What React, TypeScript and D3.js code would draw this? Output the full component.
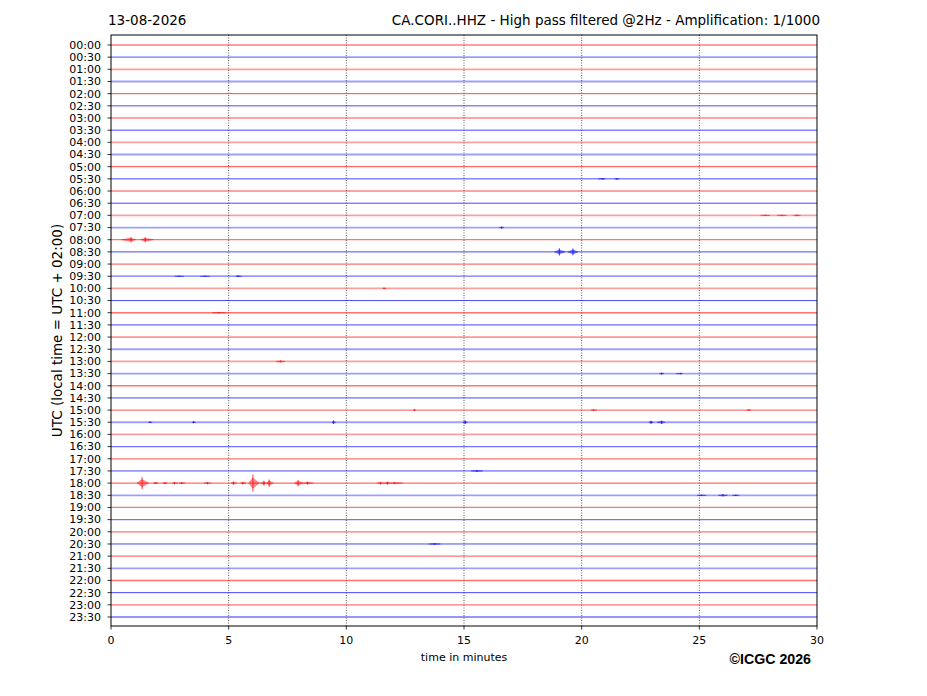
import React from "react";
import * as d3 from "d3";

// Trace rows: one every 30 minutes over the day
const rowLabels: string[] = d3.range(48).map((i) => {
  const h = Math.floor(i / 2);
  return `${String(h).padStart(2, "0")}:${i % 2 ? "30" : "00"}`;
});

// Background noise level read per row (0 = quiet, 1 = medium, 2 = noisy)
const rowNoise: number[] = [
  2, 1, 2, 2, 0, 0, 0, 0, 2, 2, 0, 0, 0, 0, 2, 2, 1, 0, 1, 1, 2, 0, 1, 0,
  0, 2, 2, 2, 1, 0, 1, 2, 2, 1, 1, 0, 0, 2, 1, 1, 1, 0, 1, 2, 1, 0, 1, 1,
];

// Bursts: [row, start min, peak min, end min, half-amplitude in row units]
const bursts: [number, number, number, number, number][] = [
  [16, 0.45, 0.85, 1.05, 0.22],
  [16, 1.25, 1.45, 1.8, 0.2],
  [17, 18.85, 19.05, 19.3, 0.3],
  [17, 19.4, 19.63, 19.85, 0.28],
  [36, 1.1, 1.32, 1.6, 0.5],
  [36, 1.8, 1.9, 2.0, 0.07],
  [36, 2.2, 2.3, 2.4, 0.07],
  [36, 2.6, 2.7, 2.85, 0.08],
  [36, 2.9, 3.0, 3.15, 0.08],
  [36, 3.95, 4.1, 4.25, 0.09],
  [36, 5.1, 5.2, 5.35, 0.13],
  [36, 5.5, 5.6, 5.75, 0.1],
  [36, 5.85, 6.03, 6.3, 0.7],
  [36, 6.35, 6.5, 6.6, 0.2],
  [36, 6.6, 6.72, 6.9, 0.3],
  [36, 7.8, 7.95, 8.2, 0.25],
  [36, 8.2, 8.35, 8.6, 0.12],
  [36, 11.3, 11.45, 11.6, 0.1],
  [36, 11.6, 11.75, 11.9, 0.12],
  [36, 11.9, 12.05, 12.4, 0.08],
  [37, 24.9, 25.1, 25.3, 0.05],
  [37, 25.8, 26.0, 26.2, 0.09],
  [37, 26.4, 26.55, 26.7, 0.05],
  [35, 15.3, 15.55, 15.8, 0.07],
  [14, 27.6, 27.8, 28.0, 0.04],
  [14, 28.3, 28.5, 28.7, 0.05],
  [14, 29.0, 29.15, 29.3, 0.06],
  [11, 20.7, 20.9, 21.0, 0.06],
  [11, 21.4, 21.5, 21.6, 0.06],
  [15, 16.5, 16.6, 16.7, 0.08],
  [19, 2.7, 2.9, 3.1, 0.04],
  [19, 3.8, 4.0, 4.2, 0.04],
  [19, 5.3, 5.4, 5.55, 0.06],
  [26, 7.0, 7.2, 7.4, 0.08],
  [22, 4.3, 4.6, 4.9, 0.05],
  [31, 9.4, 9.45, 9.55, 0.15],
  [31, 14.95, 15.05, 15.15, 0.15],
  [31, 22.85, 22.95, 23.05, 0.12],
  [31, 23.2, 23.4, 23.55, 0.14],
  [31, 1.6, 1.65, 1.75, 0.06],
  [31, 3.45, 3.5, 3.6, 0.07],
  [30, 12.85, 12.9, 12.95, 0.08],
  [30, 20.4, 20.5, 20.65, 0.05],
  [30, 27.0, 27.1, 27.2, 0.05],
  [27, 23.3, 23.4, 23.5, 0.07],
  [27, 24.0, 24.2, 24.3, 0.05],
  [41, 13.5, 13.75, 14.0, 0.07],
  [20, 11.55, 11.6, 11.7, 0.06],
];

const xTicks: number[] = [0, 5, 10, 15, 20, 25, 30];
const gridMinutes: number[] = [5, 10, 15, 20, 25];
const rowColors: string[] = ["#ff0000", "#0000ff"];

const W = 927;
const H = 696;
const left = 111;
const right = 817;
const top = 35;
const bottom = 626;

const App: React.FC = () => {
  const x = d3.scaleLinear().domain([0, 30]).range([left, right]);
  const y = d3.scaleLinear().domain([-0.82, 47.74]).range([top, bottom]);
  const font = "'DejaVu Sans', sans-serif";

  // envelope of a burst, drawn a bit narrower than the peak spike
  const spindle = (b: [number, number, number, number, number]) => {
    const [row, t0, tp, t1, a] = b;
    const e = a * 0.6;
    const pts: [number, number][] = [
      [t0, row],
      [tp, row - e],
      [t1, row],
      [tp, row + e],
    ];
    return d3.line()(pts.map(([t, r]) => [x(t), y(r)]))! + "Z";
  };

  return (
    <svg width={W} height={H} style={{ position: "absolute", left: 0, top: 0 }}>
      <rect width={W} height={H} fill="#fff" />
      {/* vertical grid */}
      {gridMinutes.map((m) => (
        <line key={m} x1={x(m)} x2={x(m)} y1={top} y2={bottom} stroke="#000" strokeWidth={0.8} strokeDasharray="1,1.5" opacity={0.8} />
      ))}
      {/* traces */}
      {rowLabels.map((_, i) => {
        const n = rowNoise[i];
        return (
          <line
            key={i}
            x1={x(0)}
            x2={x(30)}
            y1={y(i)}
            y2={y(i)}
            stroke={rowColors[i % 2]}
            strokeWidth={n === 2 ? 1.8 : n === 1 ? 1.3 : 1}
            strokeOpacity={n === 2 ? 0.38 : n === 1 ? 0.55 : 0.72}
          />
        );
      })}
      {bursts.map((b, i) => (
        <g key={i} fill={rowColors[b[0] % 2]} stroke={rowColors[b[0] % 2]}>
          <path d={spindle(b)} strokeWidth={0.6} fillOpacity={0.45} strokeOpacity={0.5} />
          <line x1={x(b[2])} x2={x(b[2])} y1={y(b[0] - b[4])} y2={y(b[0] + b[4])} strokeWidth={0.9} strokeOpacity={0.85} />
        </g>
      ))}
      {/* frame */}
      <rect x={left} y={top} width={right - left} height={bottom - top} fill="none" stroke="#000" strokeWidth={1} />
      {/* y ticks */}
      {rowLabels.map((lab, i) => (
        <g key={lab}>
          <line x1={left - 3.5} x2={left} y1={y(i)} y2={y(i)} stroke="#000" strokeWidth={0.8} />
          <text x={left - 10} y={y(i)} dy="0.35em" textAnchor="end" fontFamily={font} fontSize={11}>
            {lab}
          </text>
        </g>
      ))}
      {/* x ticks */}
      {xTicks.map((t) => (
        <g key={t}>
          <line x1={x(t)} x2={x(t)} y1={bottom} y2={bottom + 3.5} stroke="#000" strokeWidth={0.8} />
          <text x={x(t)} y={bottom + 18} textAnchor="middle" fontFamily={font} fontSize={11}>
            {t}
          </text>
        </g>
      ))}
      <text x={(left + right) / 2} y={661} textAnchor="middle" fontFamily={font} fontSize={11}>
        time in minutes
      </text>
      <text transform={`translate(62,${(top + bottom) / 2}) rotate(-90)`} textAnchor="middle" fontFamily={font} fontSize={13.5}>
        UTC (local time = UTC + 02:00)
      </text>
      <text x={108} y={25} fontFamily={font} fontSize={13.5}>
        13-08-2026
      </text>
      <text x={820} y={25} textAnchor="end" fontFamily={font} fontSize={13.5}>
        CA.CORI..HHZ - High pass filtered @2Hz - Amplification: 1/1000
      </text>
      <text x={811} y={664} textAnchor="end" fontFamily="'Liberation Sans', Arial, sans-serif" fontWeight="bold" fontSize={14.2}>
        ©ICGC 2026
      </text>
    </svg>
  );
};

export default App;
